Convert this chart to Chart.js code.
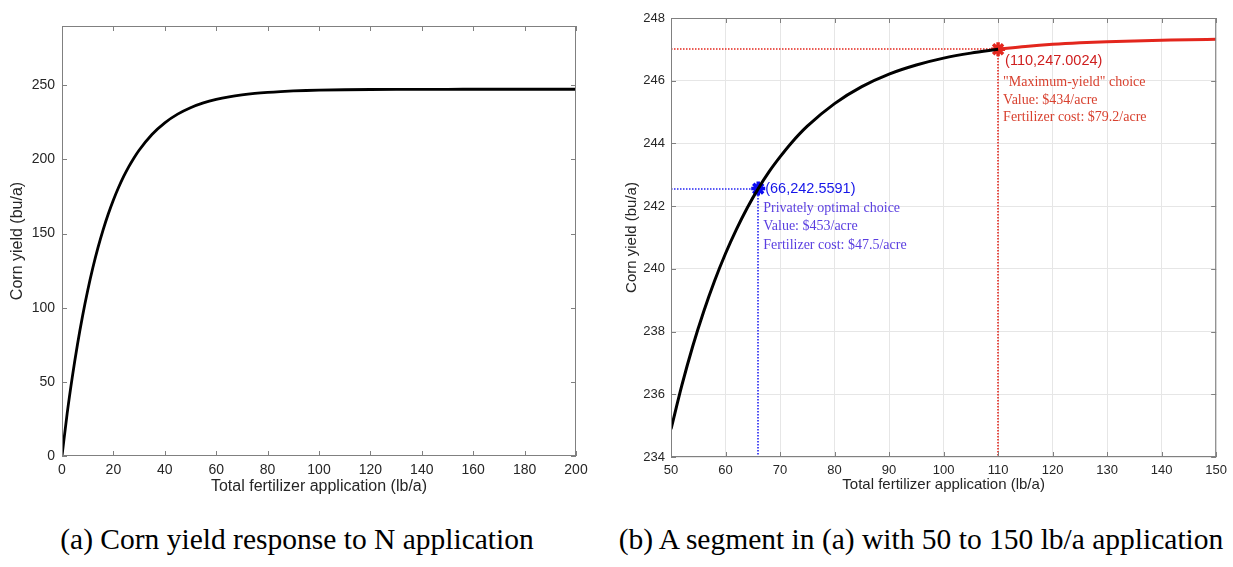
<!DOCTYPE html>
<html>
<head>
<meta charset="utf-8">
<script src="https://cdn.jsdelivr.net/npm/chart.js@4.4.0/dist/chart.umd.min.js"></script>
<style>
  body { margin: 0; background: #fff; width: 1233px; height: 567px; position: relative; overflow: hidden; }
  canvas { position: absolute; top: 0; }
  #yieldChart { left: 0; }
  #segmentChart { left: 610px; }
  .caption { position: absolute; top: 525px; font-family: "Liberation Serif", serif; font-size: 29.5px; line-height: 1; color: #000; white-space: nowrap; transform: translateX(-50%); }
</style>
</head>
<body>
<canvas id="yieldChart" width="600" height="500"></canvas>
<canvas id="segmentChart" width="623" height="500"></canvas>
<div class="caption" style="left:297px">(a) Corn yield response to N application</div>
<div class="caption" style="left:921px">(b) A segment in (a) with 50 to 150 lb/a application</div>
<script>
// full response curve, 0-200 lb/a
const leftDose = [0, 2, 4, 6, 8, 10, 12, 14, 16, 18, 20, 22, 24, 26, 28, 30,
  35, 40, 45, 50, 55, 60, 65, 70, 75, 80, 85, 90, 95, 100,
  110, 120, 130, 140, 150, 160, 170, 180, 190, 200];
const leftYield = [0, 28.58, 53.20, 75.07, 94.45, 111.65, 126.93, 140.49, 152.50, 163.17, 172.66, 181.06, 188.53, 195.14, 201.03, 206.23,
  216.86, 224.72, 230.56, 234.89, 238.11, 240.49, 242.26, 243.57, 244.55, 245.27, 245.81, 246.21, 246.50, 246.72,
  247.00, 247.16, 247.25, 247.29, 247.32, 247.33, 247.34, 247.34, 247.35, 247.35];

// zoomed segment: black up to the max-yield point, red after it
const segDose = [50, 52, 54, 56, 58, 60, 62, 64, 66, 68, 70, 72, 75, 80, 85, 90, 95, 100, 105, 110];
const segYield = [234.89, 236.29, 237.54, 238.64, 239.62, 240.49, 241.26, 241.95, 242.5591, 243.10, 243.57, 244.00,
  244.55, 245.27, 245.81, 246.21, 246.50, 246.72, 246.88, 247.0024];
const tailDose = [110, 115, 120, 125, 130, 135, 140, 145, 150];
const tailYield = [247.0024, 247.09, 247.16, 247.21, 247.245, 247.27, 247.29, 247.31, 247.32];

// the two marked choices
const choiceDose = [66, 110];
const choiceYield = ['242.5591', '247.0024'];
const choiceTitles = ['Privately optimal choice', '"Maximum-yield" choice'];
const choiceValues = ['Value: $453/acre', 'Value: $434/acre'];
const choiceCosts = ['Fertilizer cost: $47.5/acre', 'Fertilizer cost: $79.2/acre'];

const leftXTicks = [0, 20, 40, 60, 80, 100, 120, 140, 160, 180, 200];
const leftYTicks = [0, 50, 100, 150, 200, 250];
const rightXTicks = [50, 60, 70, 80, 90, 100, 110, 120, 130, 140, 150];
const rightYTicks = [234, 236, 238, 240, 242, 244, 246, 248];

const markColors = ['#0a0af2', '#e3261d'];
const guideColors = ['#2424f2', '#e3261d'];
const coordColors = ['#1616e8', '#cf1e1e'];
const noteColors = ['#5a3ee0', '#d8412f'];

function pairs(xs, ys) {
  return xs.map((x, i) => ({ x: x, y: Number(ys[i]) }));
}

function useTicks(list) {
  return function (scale) { scale.ticks = list.map(v => ({ value: v })); };
}

// box round the plot area, with MATLAB-style inward ticks on all sides
const boxTicks = {
  id: 'boxTicks',
  afterDraw(chart) {
    const { ctx, chartArea: { top, bottom, left, right }, scales: { x, y } } = chart;
    ctx.save();
    ctx.strokeStyle = '#808080';
    ctx.lineWidth = 1;
    ctx.strokeRect(left + 0.5, top + 0.5, right - left - 1, bottom - top - 1);
    ctx.beginPath();
    x.ticks.forEach(t => {
      const px = Math.round(x.getPixelForValue(t.value)) + 0.5;
      ctx.moveTo(px, bottom); ctx.lineTo(px, bottom - 5);
      ctx.moveTo(px, top); ctx.lineTo(px, top + 5);
    });
    y.ticks.forEach(t => {
      const py = Math.round(y.getPixelForValue(t.value)) + 0.5;
      ctx.moveTo(left, py); ctx.lineTo(left + 5, py);
      ctx.moveTo(right, py); ctx.lineTo(right - 5, py);
    });
    ctx.stroke();
    ctx.restore();
  }
};

// dotted guides to the axes and the text next to each choice
const choiceNotes = {
  id: 'choiceNotes',
  beforeDatasetsDraw(chart) {
    const { ctx, chartArea: { left, bottom }, scales: { x, y } } = chart;
    ctx.save();
    ctx.lineWidth = 1.6;
    ctx.setLineDash([1.5, 1.5]);
    for (let i = 0; i < choiceDose.length; i++) {
      const px = Math.round(x.getPixelForValue(choiceDose[i]));
      const py = Math.round(y.getPixelForValue(Number(choiceYield[i])));
      ctx.strokeStyle = guideColors[i];
      ctx.beginPath();
      ctx.moveTo(left, py);
      ctx.lineTo(px, py);
      ctx.stroke();
      ctx.beginPath();
      ctx.moveTo(px, py);
      ctx.lineTo(px, bottom);
      ctx.stroke();
    }
    ctx.restore();
  },
  afterDatasetsDraw(chart) {
    const { ctx, scales: { x, y } } = chart;
    const coordDy = [0, 12];
    const lineDy = [[20, 38, 57], [33, 51, 68]];
    ctx.save();
    ctx.textAlign = 'left';
    ctx.textBaseline = 'middle';
    for (let i = 0; i < choiceDose.length; i++) {
      const px = x.getPixelForValue(choiceDose[i]);
      const py = y.getPixelForValue(Number(choiceYield[i]));
      ctx.fillStyle = coordColors[i];
      ctx.font = '14.5px "Liberation Sans"';
      ctx.fillText('(' + choiceDose[i] + ',' + choiceYield[i] + ')', px + 7, py + coordDy[i]);
      ctx.fillStyle = noteColors[i];
      ctx.font = '14px "Liberation Serif"';
      ctx.fillText(choiceTitles[i], px + 5, py + lineDy[i][0]);
      ctx.fillText(choiceValues[i], px + 5, py + lineDy[i][1]);
      ctx.fillText(choiceCosts[i], px + 5, py + lineDy[i][2]);
    }
    ctx.restore();
  }
};

function axes(xMin, xMax, yMin, yMax, xTicks, yTicks, o) {
  return {
    x: {
      type: 'linear', min: xMin, max: xMax,
      afterBuildTicks: useTicks(xTicks),
      afterFit(scale) { scale.height = o.xHeight; },
      grid: { display: o.grid, color: '#e6e6e6', drawTicks: false },
      border: { display: false },
      ticks: { color: '#262626', font: { family: 'Liberation Sans', size: o.tickSize }, padding: 6, maxRotation: 0, autoSkip: false },
      title: { display: true, text: 'Total fertilizer application (lb/a)', color: '#262626',
        font: { family: 'Liberation Sans', size: o.titleSize }, padding: { top: 0, bottom: o.xTitlePad } }
    },
    y: {
      type: 'linear', min: yMin, max: yMax,
      afterBuildTicks: useTicks(yTicks),
      afterFit(scale) { scale.width = o.yWidth; },
      grid: { display: o.grid, color: '#e6e6e6', drawTicks: false },
      border: { display: false },
      ticks: { color: '#262626', font: { family: 'Liberation Sans', size: o.tickSize }, padding: o.yTickPad },
      title: { display: true, text: 'Corn yield (bu/a)', color: '#262626',
        font: { family: 'Liberation Sans', size: o.titleSize }, padding: { top: o.yTitlePad, bottom: 0 } }
    }
  };
}

const common = {
  responsive: false,
  animation: false,
  events: [],
  plugins: { legend: { display: false }, tooltip: { enabled: false } }
};

new Chart(document.getElementById('yieldChart'), {
  type: 'scatter',
  data: {
    datasets: [{
      data: pairs(leftDose, leftYield), showLine: true, pointRadius: 0,
      borderColor: '#000', borderWidth: 2.8, cubicInterpolationMode: 'monotone'
    }]
  },
  plugins: [boxTicks],
  options: Object.assign({}, common, {
    layout: { padding: { left: 0, right: 24, top: 26, bottom: 4 } },
    scales: axes(0, 200, 0, 290, leftXTicks, leftYTicks,
      { grid: false, xHeight: 40, yWidth: 62, tickSize: 14, titleSize: 16, xTitlePad: 0, yTickPad: 7, yTitlePad: 8 })
  })
});

new Chart(document.getElementById('segmentChart'), {
  type: 'scatter',
  data: {
    datasets: [{
      data: pairs(segDose, segYield), showLine: true, pointRadius: 0,
      borderColor: '#000', borderWidth: 3, cubicInterpolationMode: 'monotone'
    }, {
      data: pairs(tailDose, tailYield), showLine: true, pointRadius: 0,
      borderColor: '#e3261d', borderWidth: 3, cubicInterpolationMode: 'monotone'
    }, {
      data: pairs(choiceDose, choiceYield), showLine: false,
      pointStyle: 'star', pointRadius: 7, pointBorderWidth: 3.5,
      pointBorderColor: markColors, pointBackgroundColor: markColors
    }]
  },
  plugins: [boxTicks, choiceNotes],
  options: Object.assign({}, common, {
    layout: { padding: { left: 0, right: 11, top: 18, bottom: 4 } },
    scales: axes(50, 150, 234, 248, rightXTicks, rightYTicks,
      { grid: true, xHeight: 39, yWidth: 61, tickSize: 13, titleSize: 15, xTitlePad: 2, yTickPad: 6, yTitlePad: 13 })
  })
});
</script>
</body>
</html>
